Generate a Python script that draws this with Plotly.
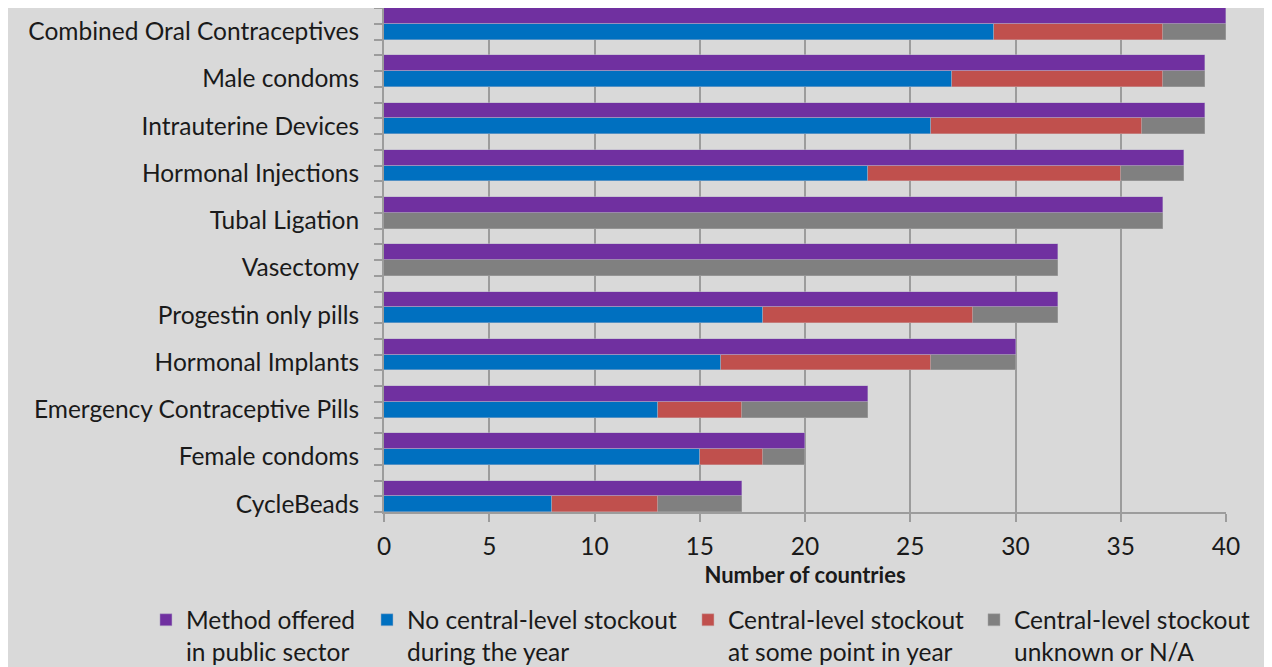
import plotly.graph_objects as go

categories = ["Combined Oral Contraceptives", "Male condoms", "Intrauterine Devices",
              "Hormonal Injections", "Tubal Ligation", "Vasectomy", "Progestin only pills",
              "Hormonal Implants", "Emergency Contraceptive Pills", "Female condoms", "CycleBeads"]
offered = [40, 39, 39, 38, 37, 32, 32, 30, 23, 20, 17]
no_stockout = [29, 27, 26, 23, 0, 0, 18, 16, 13, 15, 8]
stockout = [8, 10, 10, 12, 0, 0, 10, 10, 4, 3, 5]
unknown = [3, 2, 3, 3, 37, 32, 4, 4, 6, 2, 4]
x_ticks = [0, 5, 10, 15, 20, 25, 30, 35, 40]

FONT = "Lato"
FS = 24.5
n = len(categories)
y_offer = [3 * i for i in range(n)]
y_stack = [3 * i + 1 for i in range(n)]

fig = go.Figure()
fig.add_bar(y=y_offer, x=offered, orientation="h", width=1, legend="legend",
            name="Method offered<br>in public sector", marker_color="#7030A0",
            marker_line=dict(width=0.6, color="rgba(180,170,200,0.8)"))
fig.add_bar(y=y_stack, x=no_stockout, orientation="h", width=1, legend="legend2",
            name="No central-level stockout<br>during the year", marker_color="#0070C0",
            marker_line=dict(width=0.6, color="rgba(170,180,200,0.8)"))
fig.add_bar(y=y_stack, x=stockout, orientation="h", width=1, legend="legend3",
            name="Central-level stockout<br>at some point in year", marker_color="#C0504D",
            marker_line=dict(width=0.6, color="rgba(200,170,170,0.8)"))
fig.add_bar(y=y_stack, x=unknown, orientation="h", width=1, legend="legend4",
            name="Central-level stockout<br>unknown or N/A", marker_color="#808080",
            marker_line=dict(width=0.6, color="rgba(170,170,170,0.8)"))

leg_common = dict(orientation="h", xanchor="left", yref="container", y=0.1057, yanchor="top",
                  bgcolor="rgba(0,0,0,0)", font=dict(size=FS, family=FONT),
                  valign="top")
fig.update_layout(
    width=1264, height=659,
    barmode="stack", bargap=0,
    paper_bgcolor="#D9D9D9", plot_bgcolor="#D9D9D9",
    margin=dict(l=376, r=46, t=0, b=155),
    font=dict(family=FONT, size=FS, color="#1a1a1a"),
    showlegend=True,
    legend=dict(x=-0.2827, **leg_common),
    legend2=dict(x=-0.0202, **leg_common),
    legend3=dict(x=0.3610, **leg_common),
    legend4=dict(x=0.7007, **leg_common),
)
fig.update_xaxes(range=[0, 40], tickvals=x_ticks, showgrid=True, gridcolor="#9C9C9C",
                 gridwidth=2, zeroline=False, showline=True, linecolor="#9C9C9C", linewidth=2,
                 ticks="outside", ticklen=8, tickcolor="#9C9C9C", tickwidth=2,
                 tickfont=dict(size=FS), ticklabelstandoff=4,
                 title=dict(text="<b>Number of countries</b>", font=dict(size=22), standoff=8))
fig.update_yaxes(range=[3 * n - 1.5, -0.5], tickvals=y_stack, ticktext=categories,
                 showgrid=False, zeroline=False, showline=True, linecolor="#9C9C9C",
                 linewidth=2, ticks="", tickfont=dict(size=FS), ticklabelstandoff=18,
                 minor=dict(tickvals=[k - 0.5 for k in range(3 * n)], ticks="outside",
                            ticklen=8, tickcolor="#9C9C9C", tickwidth=2, showgrid=False))

fig.write_html("out.html")
